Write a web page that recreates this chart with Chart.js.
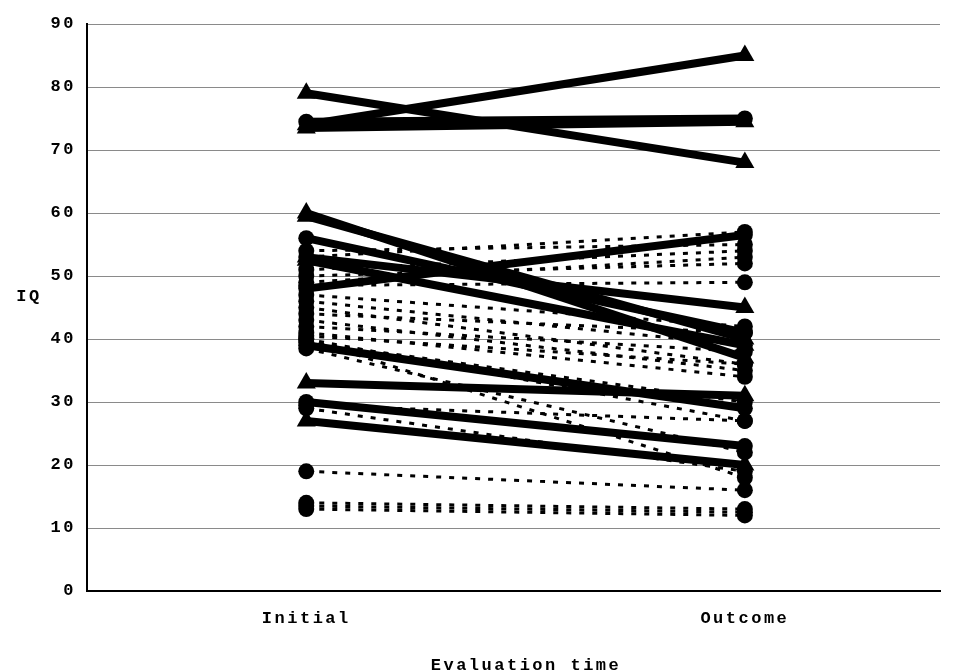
<!DOCTYPE html>
<html>
<head>
<meta charset="utf-8">
<script src="https://cdn.jsdelivr.net/npm/chart.js@4"></script>
<style>
  html, body { margin: 0; padding: 0; background: #fff; }
  #wrap { width: 955px; height: 672px; position: relative; }
</style>
</head>
<body>
<div id="wrap"><canvas id="iqChart"></canvas></div>
<script>
const categories = ["Initial", "Outcome"];
const yTicks = [0, 10, 20, 30, 40, 50, 60, 70, 80, 90];

// thick solid lines
const solidInitial = [79, 74, 73.5, 74.5, 60, 59.5, 56, 53, 52.5, 48, 39, 33, 30, 27];
const solidOutcome = [68, 85, 74.5, 75, 37, 40, 41, 45, 39, 56.5, 29, 31, 23, 20];
const solidMarkers = ["triangle", "triangle", "triangle", "circle", "triangle", "triangle", "circle",
  "triangle", "triangle", "circle", "circle", "triangle", "circle", "triangle"];

// thin dotted lines
const dottedInitial = [53, 54, 51, 50, 49, 48.5, 47, 46, 45, 44, 43, 42, 41, 40.5, 40, 40, 39.5, 38.5, 29.5, 29, 19, 14, 13.5, 13];
const dottedOutcome = [57, 55, 54, 52, 53, 49, 42, 39, 36, 41, 35, 38, 34, 36, 27, 18, 30, 22, 27, 19, 16, 13, 12.5, 12];

const FONT = "'Liberation Mono', 'DejaVu Sans Mono', monospace";

const datasets = [];
solidInitial.forEach(function (v, i) {
  datasets.push({
    data: [{ x: 0, y: v }, { x: 1, y: solidOutcome[i] }],
    borderColor: "#000",
    backgroundColor: "#000",
    borderWidth: 8,
    pointStyle: solidMarkers[i],
    pointRadius: solidMarkers[i] === "triangle" ? 11 : 8,
    pointBorderWidth: 0,
    order: 1,
  });
});
dottedInitial.forEach(function (v, i) {
  datasets.push({
    data: [{ x: 0, y: v }, { x: 1, y: dottedOutcome[i] }],
    borderColor: "#000",
    backgroundColor: "#000",
    borderWidth: 3,
    borderDash: [5, 8],
    pointStyle: "circle",
    pointRadius: 8,
    pointBorderWidth: 0,
    order: 2,
  });
});

const labelsPlugin = {
  id: "extraLabels",
  beforeDraw: function (chart) {
    chart.ctx.letterSpacing = "2.5px";
  },
  afterDraw: function (chart) {
    const c = chart.ctx;
    c.save();
    c.fillStyle = "#000";
    c.font = "bold 17px " + FONT;
    c.textAlign = "center";
    c.textBaseline = "middle";
    c.fillText("IQ", 29, 297);
    c.fillText("Evaluation time", 526, 666);
    c.restore();
  },
};

new Chart(document.getElementById("iqChart").getContext("2d"), {
  type: "line",
  data: { datasets: datasets },
  plugins: [labelsPlugin],
  options: {
    responsive: true,
    maintainAspectRatio: false,
    animation: false,
    layout: { padding: { top: 24, right: 15, left: 0, bottom: 0 } },
    plugins: { legend: { display: false }, tooltip: { enabled: false } },
    scales: {
      x: {
        type: "linear",
        min: -0.5,
        max: 1.445,
        afterBuildTicks: function (scale) {
          scale.ticks = [{ value: 0 }, { value: 1 }];
        },
        afterFit: function (scale) {
          scale.height = 81;
        },
        ticks: {
          color: "#000",
          font: { family: FONT, size: 17, weight: "bold" },
          padding: 10,
          callback: function (value) {
            return categories[value] || "";
          },
        },
        grid: { display: false },
        border: { display: true, color: "#000", width: 2 },
      },
      y: {
        min: 0,
        max: 90,
        afterBuildTicks: function (scale) {
          scale.ticks = yTicks.map(function (v) { return { value: v }; });
        },
        afterFit: function (scale) {
          scale.width = 87;
        },
        ticks: {
          color: "#000",
          font: { family: FONT, size: 17, weight: "bold" },
          padding: 11,
        },
        grid: { color: "#8a8a8a", lineWidth: 1, drawTicks: false },
        border: { display: true, color: "#000", width: 2 },
      },
    },
  },
});
</script>
</body>
</html>
